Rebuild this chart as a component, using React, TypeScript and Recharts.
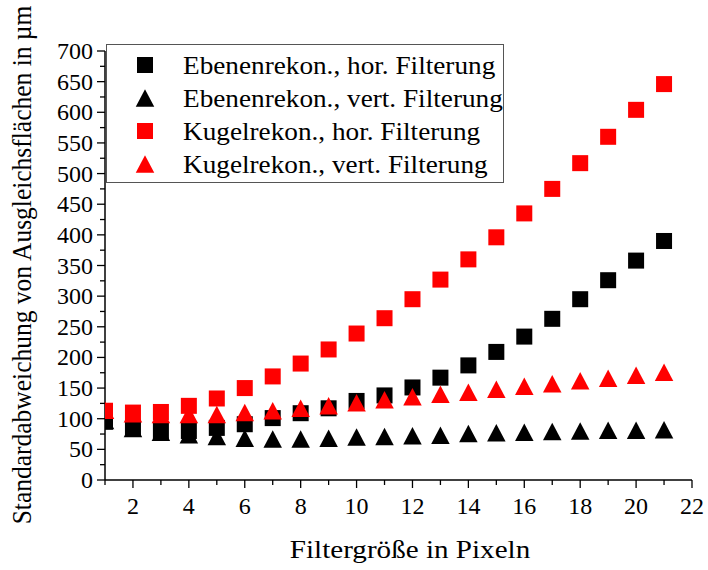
import { ScatterChart, Scatter, XAxis, YAxis, Legend, Label } from "recharts"

// Filtergröße (Pixel) und Standardabweichungen in µm
const filterSizes = [1, 2, 3, 4, 5, 6, 7, 8, 9, 10, 11, 12, 13, 14, 15, 16, 17, 18, 19, 20, 21]
const ebeneHor = [95, 84, 80, 80, 85, 91, 101, 109, 117, 129, 138, 151, 167, 187, 209, 234, 263, 295, 326, 358, 390]
const ebeneVert = [97, 84, 78, 74, 71, 68, 67, 67, 68, 70, 71, 72, 73, 76, 77, 78, 79, 80, 81, 81, 82]
const kugelHor = [113, 110, 111, 121, 133, 150, 169, 190, 213, 239, 264, 295, 327, 360, 396, 435, 475, 517, 560, 604, 646]
const kugelVert = [114, 108, 107, 107, 107, 110, 113, 117, 121, 126, 131, 136, 140, 143, 148, 153, 157, 162, 166, 171, 176]

const xTicks = [1, 2, 3, 4, 5, 6, 7, 8, 9, 10, 11, 12, 13, 14, 15, 16, 17, 18, 19, 20, 21, 22]
const yTicks = [0, 25, 50, 75, 100, 125, 150, 175, 200, 225, 250, 275, 300, 325, 350, 375, 400, 425, 450, 475, 500, 525, 550, 575, 600, 625, 650, 675, 700]

const FONT = "'Liberation Serif', 'Times New Roman', serif"
const RED = "#ff0000"
const BLACK = "#000000"

const toPoints = (vals: number[]) => filterSizes.map((x, i) => ({ x, y: vals[i] }))

const series = [
  { name: "Ebenenrekon., hor. Filterung", data: toPoints(ebeneHor), color: BLACK, marker: "square" },
  { name: "Ebenenrekon., vert. Filterung", data: toPoints(ebeneVert), color: BLACK, marker: "triangle" },
  { name: "Kugelrekon., hor. Filterung", data: toPoints(kugelHor), color: RED, marker: "square" },
  { name: "Kugelrekon., vert. Filterung", data: toPoints(kugelVert), color: RED, marker: "triangle" },
]

function Marker({ cx, cy, fill, kind }: { cx: number; cy: number; fill: string; kind: string }) {
  if (kind === "square") {
    return <rect x={cx - 8} y={cy - 8} width={16} height={16} fill={fill} />
  }
  // Dreieck, mittig auf seiner Bounding-Box
  const w = 18.5
  const h = 17.5
  return (
    <polygon
      points={`${cx},${cy - h / 2} ${cx - w / 2},${cy + h / 2} ${cx + w / 2},${cy + h / 2}`}
      fill={fill}
    />
  )
}

function YTick({ x, y, payload }: any) {
  const major = payload.value % 50 === 0
  return (
    <g>
      <line x1={x - (major ? 8 : 5)} x2={x} y1={y} y2={y} stroke={BLACK} strokeWidth={1.3} />
      {major && (
        <text x={x - 12} y={y + 8} textAnchor="end" fontFamily={FONT} fontSize={24} fill={BLACK}>
          {payload.value}
        </text>
      )}
    </g>
  )
}

function XTick({ x, y, payload }: any) {
  const major = payload.value % 2 === 0
  return (
    <g>
      <line x1={x} x2={x} y1={y} y2={y + (major ? 8 : 5)} stroke={BLACK} strokeWidth={1.3} />
      {major && (
        <text x={x} y={y + 34} textAnchor="middle" fontFamily={FONT} fontSize={24} fill={BLACK}>
          {payload.value}
        </text>
      )}
    </g>
  )
}

function LegendBox({ payload }: any) {
  const rows = series.map((s) => s.name)
  return (
    <svg width={398} height={139} style={{ display: "block" }}>
      <rect x={0.5} y={0.5} width={397} height={138} fill="#fff" stroke="#555" strokeWidth={1} />
      {rows.map((name, i) => {
        const s = series.find((d) => d.name === (payload?.[i]?.value ?? name)) ?? series[i]
        const cy = 21 + i * 33
        return (
          <g key={name}>
            <Marker cx={39} cy={cy} fill={s.color} kind={s.marker} />
            <text
              transform={`translate(77 ${cy + 8.5}) scale(1.09 1)`}
              fontFamily={FONT}
              fontSize={25}
              fill={BLACK}
            >
              {s.name}
            </text>
          </g>
        )
      })}
    </svg>
  )
}

export default function App() {
  return (
    <div style={{ position: "absolute", left: 0, top: 0, width: 708, height: 570, background: "#fff" }}>
      <ScatterChart width={708} height={570} margin={{ top: 51, right: 16, bottom: 0, left: 0 }}>
        <XAxis
          type="number"
          dataKey="x"
          domain={[1, 22]}
          ticks={xTicks}
          interval={0}
          allowDataOverflow
          height={90}
          tickSize={0}
          tickMargin={0}
          tick={<XTick />}
          axisLine={{ stroke: BLACK, strokeWidth: 1.5 }}
          tickLine={false}
        >
          <Label
            content={() => (
              <text
                transform="translate(410 558) scale(1.12 1)"
                textAnchor="middle"
                fontFamily={FONT}
                fontSize={26}
                fill={BLACK}
              >
                Filtergröße in Pixeln
              </text>
            )}
          />
        </XAxis>
        <YAxis
          type="number"
          dataKey="y"
          domain={[0, 700]}
          ticks={yTicks}
          interval={0}
          width={105}
          tickSize={0}
          tickMargin={0}
          tick={<YTick />}
          axisLine={{ stroke: BLACK, strokeWidth: 1.5 }}
          tickLine={false}
        >
          <Label
            content={() => (
              <text
                transform="translate(22 265) rotate(-90) scale(1.02 1.08)"
                textAnchor="middle"
                dominantBaseline="central"
                fontFamily={FONT}
                fontSize={25}
                fill={BLACK}
              >
                Standardabweichung von Ausgleichsflächen in µm
              </text>
            )}
          />
        </YAxis>
        <Legend
          layout="vertical"
          align="center"
          verticalAlign="middle"
          wrapperStyle={{ left: 106, top: 44, width: 398, height: 139 }}
          content={<LegendBox />}
        />
        {series.map((s) => (
          <Scatter
            key={s.name}
            name={s.name}
            data={s.data}
            fill={s.color}
            isAnimationActive={false}
            shape={(p: any) => <Marker cx={p.cx} cy={p.cy} fill={s.color} kind={s.marker} />}
          />
        ))}
      </ScatterChart>
    </div>
  )
}
